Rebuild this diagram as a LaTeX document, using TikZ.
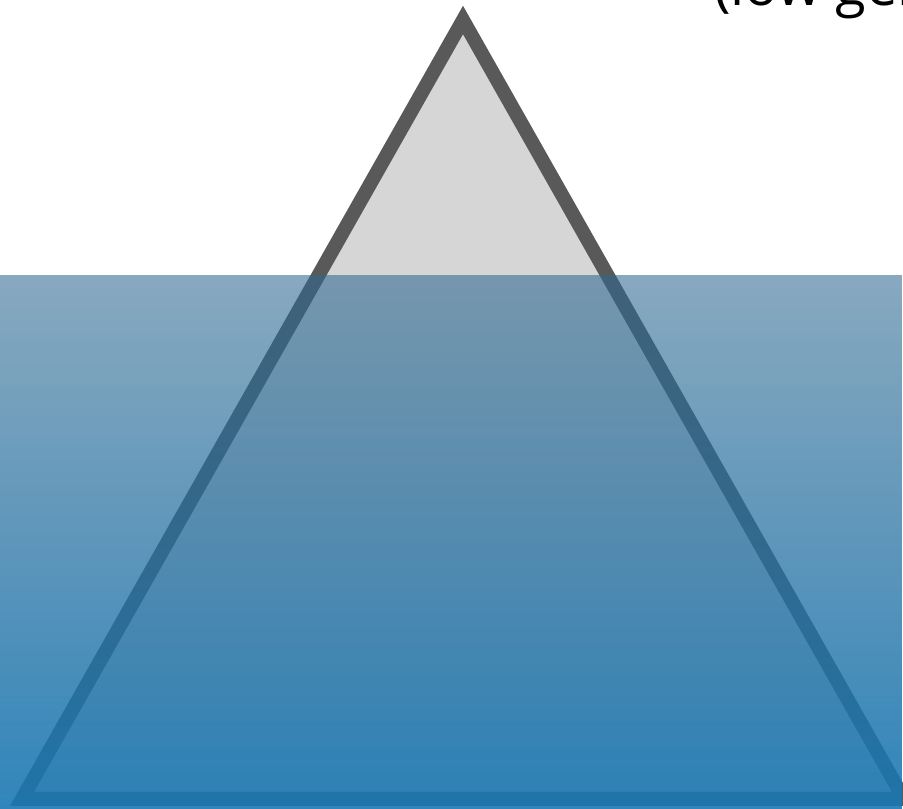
\documentclass[tikz,border=0pt]{standalone}
\usepackage{fontspec}
\setmainfont{Open Sans}
\usetikzlibrary{fadings}

\definecolor{icegray}{RGB}{214,214,214}
\definecolor{iceedge}{RGB}{89,89,89}
\definecolor{watertop}{RGB}{46,104,144}
\definecolor{waterbottom}{RGB}{25,120,180}

\tikzfading[name=waterfade,top color=transparent!43,bottom color=transparent!10]

\begin{document}
\begin{tikzpicture}[x=1pt,y=1pt,line join=miter]
        \useasboundingbox (0,0) rectangle (903,809);
        \clip (0,0) rectangle (903,809);

        \node[anchor=base west,inner sep=0pt,font=\fontsize{56}{62}\selectfont] (caption)
            at (714,803) {(low generality)};

        % iceberg
        \draw[fill=icegray,draw=iceedge,line width=14pt]
            (463,789) -- (904,10) -- (22,10) -- cycle;

        % water
        \shade[top color=watertop,bottom color=waterbottom,path fading=waterfade]
            (0,0) rectangle (903,534);
    \end{tikzpicture}
\end{document}
